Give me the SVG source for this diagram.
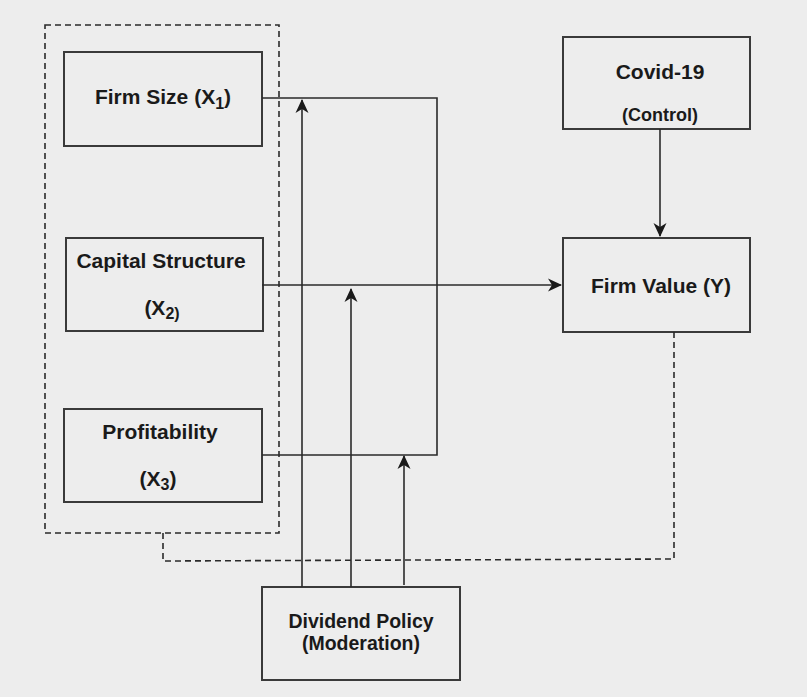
<svg xmlns="http://www.w3.org/2000/svg" width="807" height="697" viewBox="0 0 807 697">
<defs>
<marker id="arr" markerWidth="16" markerHeight="16" refX="13" refY="7.5" orient="auto" markerUnits="userSpaceOnUse">
<path d="M0,1 L14,7.5 L0,14 L4,7.5 z" fill="#1a1a1a"/>
</marker>
<style>
.box{fill:none;stroke:#3a3a3a;stroke-width:2}
.ln{fill:none;stroke:#2a2a2a;stroke-width:1.6}
.dash{fill:none;stroke:#2a2a2a;stroke-width:1.6;stroke-dasharray:6 4}
.t{font-family:"Liberation Sans",Arial,sans-serif;font-weight:bold;font-size:21px;fill:#1a1a1a;text-anchor:middle}
.s{font-size:16px}
</style>
</defs>
<rect width="807" height="697" fill="#ededed"/>
<g id="group">
<rect x="45" y="25" width="234" height="508" class="dash"/>
</g>
<g id="firm-size">
<rect x="64" y="52" width="198" height="94" class="box"/>
<text class="t" x="163" y="104">Firm Size (X<tspan class="s" dy="5">1</tspan><tspan dy="-5">)</tspan></text>
</g>
<g id="capital-structure">
<rect x="66" y="238" width="197" height="93" class="box"/>
<text class="t" x="161" y="268">Capital Structure</text>
<text class="t" x="162" y="315">(X<tspan class="s" dy="4">2)</tspan></text>
</g>
<g id="profitability">
<rect x="64" y="409" width="198" height="93" class="box"/>
<text class="t" x="160" y="439">Profitability</text>
<text class="t" x="158" y="486">(X<tspan class="s" dy="4">3</tspan><tspan dy="-4">)</tspan></text>
</g>
<g id="covid">
<rect x="563" y="37" width="187" height="92" class="box"/>
<text class="t" x="660" y="79">Covid-19</text>
<text class="t" x="660" y="121" style="font-size:18px">(Control)</text>
</g>
<g id="firm-value">
<rect x="563" y="238" width="187" height="94" class="box"/>
<text class="t" x="661" y="293">Firm Value (Y)</text>
</g>
<g id="dividend">
<rect x="262" y="587" width="198" height="93" class="box"/>
<text class="t" x="361" y="628" style="font-size:19.5px">Dividend Policy</text>
<text class="t" x="361" y="650" style="font-size:19.5px">(Moderation)</text>
</g>
<g id="connectors">
<polyline class="ln" points="262,98 437,98 437,455 262,455"/>
<line class="ln" x1="262" y1="285" x2="561" y2="285" marker-end="url(#arr)"/>
<line class="ln" x1="660" y1="129" x2="660" y2="236" marker-end="url(#arr)"/>
<line class="ln" x1="302" y1="587" x2="302" y2="100" marker-end="url(#arr)"/>
<line class="ln" x1="351" y1="587" x2="351" y2="289" marker-end="url(#arr)"/>
<line class="ln" x1="404" y1="585" x2="404" y2="456" marker-end="url(#arr)"/>
<polyline class="dash" points="163,533 163,561 674,559 674,332"/>
</g>
</svg>
